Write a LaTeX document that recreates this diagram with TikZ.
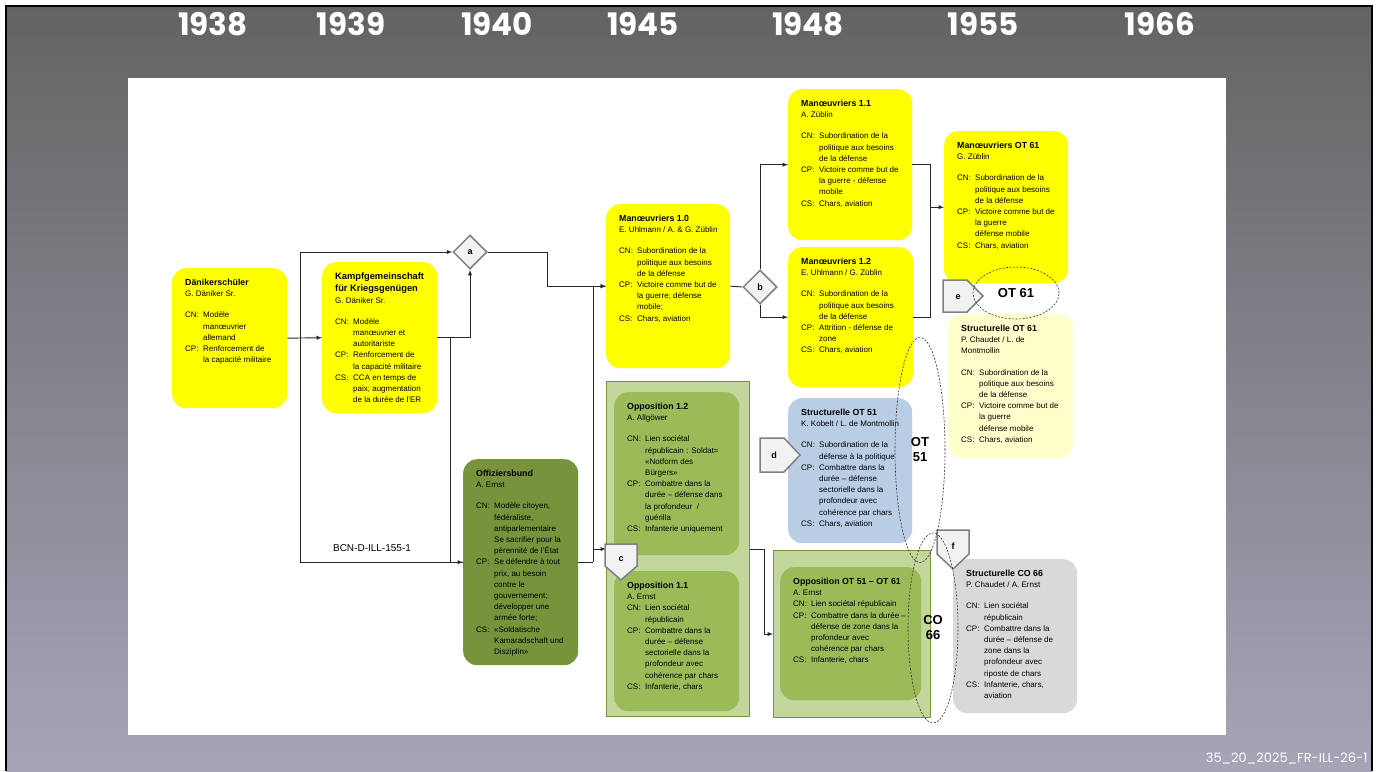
\documentclass[tikz,border=0pt]{standalone}
\usepackage{fontspec}
\setmainfont{Liberation Sans}
\newfontfamily\yearfont{Poppins}
\usetikzlibrary{shapes.geometric,calc}

\definecolor{yel}{HTML}{FFFF00}
\definecolor{olive}{HTML}{77933C}
\definecolor{oppgreen}{HTML}{9BBB59}
\definecolor{lightgreen}{HTML}{C3D69B}
\definecolor{paleblue}{HTML}{B9CDE5}
\definecolor{paleyel}{HTML}{FFFFCC}
\definecolor{palegray}{HTML}{D9D9D9}
\definecolor{bgtop}{HTML}{636363}
\definecolor{bgbot}{HTML}{A8A4B8}

% box body: width, height, content
\newcommand\cardtext[3]{\parbox[c][\dimexpr#2pt-22pt\relax][t]{\dimexpr#1pt-26pt\relax}{\raggedright\let\\\newline\fontsize{8}{11.2}\selectfont #3}}
\newcommand\cardtitle[1]{{\fontsize{8.8}{11.5}\selectfont\bfseries #1\par}}
\newcommand\crit[2]{\par\noindent\hangindent=18pt\hangafter=1\makebox[18pt][l]{#1}#2\par}

\begin{document}
\begin{tikzpicture}[x=1pt, y=-1pt,
  card/.style={rounded corners=14pt, inner xsep=13pt, inner ysep=11pt, anchor=north west},
  panel/.style={draw=olive, line width=1pt, fill=lightgreen, anchor=north west, inner sep=0pt},
  gate/.style={diamond, draw=gray, fill=gray!10, line width=1.5pt, minimum size=34pt, inner sep=0pt, font=\bfseries\fontsize{9}{10}\selectfont},
  tagshape/.style={draw=gray, fill=gray!10, line width=1.5pt},
  tagtext/.style={inner sep=0pt, font=\bfseries\fontsize{9}{10}\selectfont},
  era/.style={ellipse, draw=black!80, dash pattern=on 2pt off 1.5pt, line width=0.6pt, inner sep=0pt, align=center, font=\bfseries\fontsize{13}{15}\selectfont},
  line/.style={black!85, line width=0.9pt},
  link/.style={line, -latex},
  year/.style={text=white, font=\yearfont\bfseries\fontsize{31}{32}\selectfont}]

\useasboundingbox (0,0) rectangle (1381,771);
\shade[top color=bgtop, bottom color=bgbot] (6,6) rectangle (1372,771);
\draw[black, line width=1.2pt] (6,771) -- (6,6) -- (1372,6) -- (1372,771);
\fill[white] (128,78) rectangle (1226,735);

% years
\node[year] (y38) at (213,24) {1938};
\node[year] (y39) at (351,24) {1939};
\node[year] (y40) at (497,24) {1940};
\node[year] (y45) at (643,24) {1945};
\node[year] (y48) at (808,24) {1948};
\node[year] (y55) at (983,24) {1955};
\node[year] (y66) at (1160,24) {1966};
\node[anchor=east, text=white, font=\yearfont\fontsize{13}{14}\selectfont] (code) at (1371,758) {35\_20\_2025\_FR-ILL-26-1};

% boxes
\node[card, fill=yel] (dani) at (172,268) {\cardtext{115}{140}{%
\cardtitle{Dänikerschüler}
\mbox{G. Däniker Sr.}\par\vspace{10pt}
\crit{CN:}{Modèle\\manœuvrier\\allemand}
\crit{CP:}{Renforcement de\\la capacité militaire}}};

\node[card, fill=yel] (kampf) at (322,262) {\cardtext{115}{151}{%
{\fontsize{9.3}{12}\selectfont\bfseries Kampfgemeinschaft\\für Kriegsgenügen\par}
\mbox{G. Däniker Sr.}\par\vspace{10pt}
\crit{CN:}{Modèle\\manœuvrier et\\autoritariste}
\crit{CP:}{Renforcement de\\la capacité militaire}
\crit{CS:}{CCA en temps de\\paix; augmentation\\de la durée de l’ER}}};

\node[card, fill=olive] (offz) at (463,459) {\cardtext{115}{206}{%
\cardtitle{Offiziersbund}
\mbox{A. Ernst}\par\vspace{10pt}
\crit{CN:}{Modèle citoyen,\\fédéraliste,\\antiparlementaire\\Se sacrifier pour la\\pérennité de l’État}
\crit{CP:}{Se défendre à tout\\prix, au besoin\\contre le\\gouvernement;\\développer une\\armée forte;}
\crit{CS:}{«Soldatische\\Kamaradschaft und\\Disziplin»}}};

\node[card, fill=yel] (man10) at (606,204) {\cardtext{124}{164}{%
\cardtitle{Manœuvriers 1.0}
\mbox{E. Uhlmann / A. \& G. Züblin}\par\vspace{10pt}
\crit{CN:}{Subordination de la\\politique aux besoins\\de la défense}
\crit{CP:}{Victoire comme but de\\la guerre; défense\\mobile;}
\crit{CS:}{Chars, aviation}}};

\node[panel, minimum width=143pt, minimum height=335pt] (oppbox) at (606,381) {};
\node[card, fill=oppgreen] (opp12) at (614,392) {\cardtext{125}{163}{%
\cardtitle{Opposition 1.2}
\mbox{A. Allgöwer}\par\vspace{10pt}
\crit{CN:}{Lien sociétal\\républicain : Soldat=\\«Notform des\\Bürgers»}
\crit{CP:}{Combattre dans la\\durée – défense dans\\la profondeur~~/\\guérilla}
\crit{CS:}{Infanterie uniquement}}};
\node[card, fill=oppgreen] (opp11) at (614,571) {\cardtext{125}{140}{%
\cardtitle{Opposition 1.1}
\mbox{A. Ernst}\par
\crit{CN:}{Lien sociétal\\républicain}
\crit{CP:}{Combattre dans la\\durée – défense\\sectorielle dans la\\profondeur avec\\cohérence par chars}
\crit{CS:}{Infanterie, chars}}};

\node[card, fill=yel] (man11) at (788,89) {\cardtext{124}{151}{%
\cardtitle{Manœuvriers 1.1}
\mbox{A. Züblin}\par\vspace{10pt}
\crit{CN:}{Subordination de la\\politique aux besoins\\de la défense}
\crit{CP:}{Victoire comme but de\\la guerre - défense\\mobile}
\crit{CS:}{Chars, aviation}}};

\node[card, fill=yel] (man12) at (788,247) {\cardtext{125}{140}{%
\cardtitle{Manœuvriers 1.2}
\mbox{E. Uhlmann / G. Züblin}\par\vspace{10pt}
\crit{CN:}{Subordination de la\\politique aux besoins\\de la défense}
\crit{CP:}{Attrition - défense de\\zone}
\crit{CS:}{Chars, aviation}}};

\node[card, fill=paleblue] (str51) at (788,398) {\cardtext{124}{145}{%
\cardtitle{Structurelle OT 51}
\mbox{K. Kobelt / L. de Montmollin}\par\vspace{10pt}
\crit{CN:}{Subordination de la\\défense à la politique}
\crit{CP:}{Combattre dans la\\durée – défense\\sectorielle dans la\\profondeur avec\\cohérence par chars}
\crit{CS:}{Chars, aviation}}};

\node[panel, minimum width=157pt, minimum height=167pt] (oppotbox) at (773,550) {};
\node[card, fill=oppgreen] (oppot) at (780,567) {\cardtext{141}{133}{%
\cardtitle{Opposition OT 51 – OT 61}
\mbox{A. Ernst}\par
\crit{CN:}{Lien sociétal républicain}
\crit{CP:}{Combattre dans la durée –\\défense de zone dans la\\profondeur avec\\cohérence par chars}
\crit{CS:}{Infanterie, chars}}};

\node[card, fill=yel] (man61) at (944,131) {\cardtext{124}{152}{%
\cardtitle{Manœuvriers OT 61}
\mbox{G. Züblin}\par\vspace{10pt}
\crit{CN:}{Subordination de la\\politique aux besoins\\de la défense}
\crit{CP:}{Victoire comme but de\\la guerre\\défense mobile}
\crit{CS:}{Chars, aviation}}};

\node[card, fill=paleyel] (str61) at (948,314) {\cardtext{125}{144}{%
\cardtitle{Structurelle OT 61}
P. Chaudet / L. de\\Montmollin\par\vspace{10pt}
\crit{CN:}{Subordination de la\\politique aux besoins\\de la défense}
\crit{CP:}{Victoire comme but de\\la guerre\\défense mobile}
\crit{CS:}{Chars, aviation}}};

\node[card, fill=palegray] (str66) at (953,559) {\cardtext{124}{154}{%
\cardtitle{Structurelle CO 66}
\mbox{P. Chaudet / A. Ernst}\par\vspace{10pt}
\crit{CN:}{Lien sociétal\\républicain}
\crit{CP:}{Combattre dans la\\durée – défense de\\zone dans la\\profondeur avec\\riposte de chars}
\crit{CS:}{Infanterie, chars,\\aviation}}};

% decision points
\node[gate] (a) at (470,252) {a};
\node[gate] (b) at (760,287) {b};

\node[font=\fontsize{10}{11}\selectfont] (bcn) at (372,548) {BCN-D-ILL-155-1};

% connectors
\coordinate (s1) at (300,338);
\draw[link] (dani.east) -- (kampf.west);
\draw[link] (s1) |- (a.west);
\draw[link] (s1) |- (offz.west);
\draw[link] (kampf.east) -| (a.south);
\draw[line] (kampf.east) -- ++(13,0) |- (offz.west);
\draw[link] (a.east) -- ++(60,0) |- (man10.west);
\draw[line] (offz.east) -- ++(15,0) coordinate (o1);
\draw[link] (o1) |- (man10.west);
\draw[link] (o1) |- (oppbox.west);
\draw[line] (man10.east) -- (b.west);
\draw[link] (b.north) |- (man11.west);
\draw[link] (b.south) |- (man12.west);
\draw[line] (man11.east) -- ++(18,0) coordinate (m1) |- (man12.east);
\draw[link] (m1 |- man61.west) -- (man61.west);
\draw[link] (oppbox.east) -- ++(14,0) |- (oppotbox.west);

% markers
\draw[tagshape] (605,544) -- (637,544) -- (637,566) -- (621,580) -- (605,566) -- cycle;
\node[tagtext] (c) at (621,559) {c};
\draw[tagshape] (760,438) -- (784,438) -- (800,455) -- (784,472) -- (760,472) -- cycle;
\node[tagtext] (d) at (774,455) {d};
\draw[tagshape] (943,280) -- (967,280) -- (983,296) -- (967,312) -- (943,312) -- cycle;
\node[tagtext] (e) at (958,297) {e};
\draw[tagshape] (937,530) -- (969,530) -- (969,554) -- (953,569) -- (937,554) -- cycle;
\node[tagtext] (f) at (953,546) {f};

% periods
\node[era, minimum width=50pt, minimum height=225pt] (ot51) at (920,450) {OT\\51};
\node[era, minimum width=86pt, minimum height=52pt] (ot61) at (1016,293) {OT 61};
\node[era, minimum width=50pt, minimum height=190pt] (co66) at (933,628) {CO\\66};

\end{tikzpicture}
\end{document}
